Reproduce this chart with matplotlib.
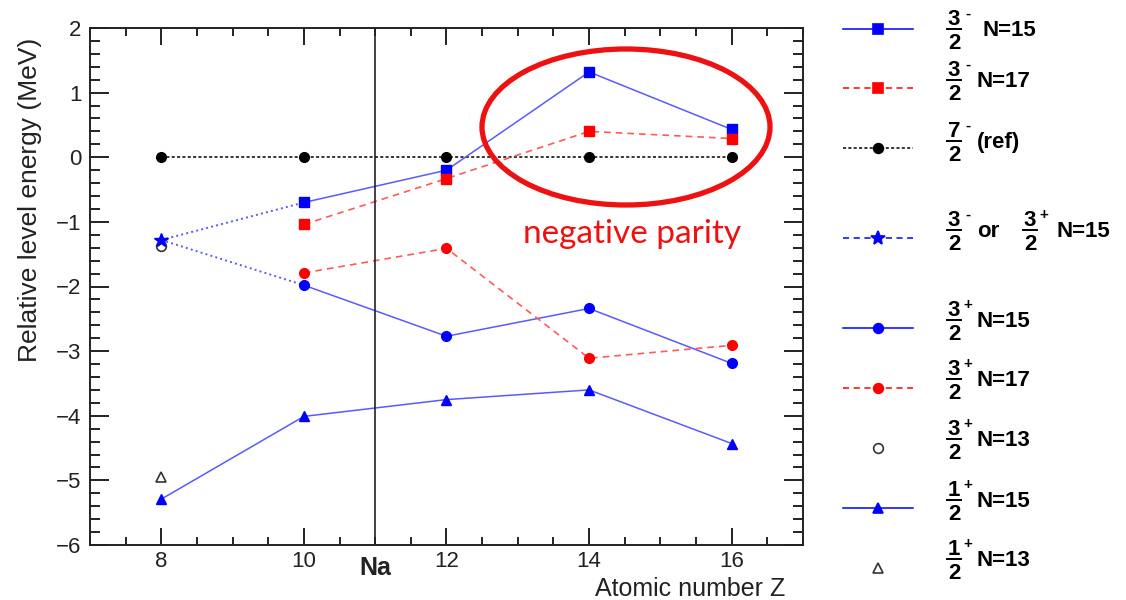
import numpy as np
import matplotlib
matplotlib.use('Agg')
import matplotlib.pyplot as plt
from matplotlib.patches import Ellipse
from matplotlib.ticker import MultipleLocator

plt.rcParams['font.family'] = ['Liberation Sans', 'DejaVu Sans']

# data (MeV, relative to 7/2- level)
Z_all = [8, 10, 12, 14, 16]
Z_hi = [10, 12, 14, 16]
ref_72m = [0, 0, 0, 0, 0]
e32m_N15 = [-0.70, -0.20, 1.32, 0.43]
e32m_N17 = [-1.04, -0.33, 0.40, 0.29]
e32p_N15 = [-1.98, -2.77, -2.34, -3.19]
e32p_N17 = [-1.79, -1.41, -3.11, -2.91]
e12p_N15 = [-5.29, -4.01, -3.75, -3.60, -4.43]
Z_star, e_star = 8, -1.28          # 3/2- or 3/2+ N=15
Z_o13, e32p_N13 = 8, -1.38
Z_t13, e12p_N13 = 8, -4.95

blue_line = '#5a5aff'
red_line = '#ff5a5a'
ink = '#222222'

fig = plt.figure(figsize=(11.26, 6), dpi=100)
ax = fig.add_axes([90/1126, 55/600, 713/1126, 517/600])

# dotted links from the Z=8 star
ax.plot([Z_star, Z_hi[0]], [e_star, e32m_N15[0]], ls=':', color=blue_line, lw=1.4)
ax.plot([Z_star, Z_hi[0]], [e_star, e32p_N15[0]], ls=':', color=blue_line, lw=1.4)

ax.plot(Z_all, ref_72m, ls=(0, (2, 1.5)), color='black', lw=1.1,
        marker='o', ms=7, mfc='black', mec='black')
ax.plot(Z_hi, e32m_N15, ls='-', color=blue_line, lw=1.1)
ax.plot(Z_hi, e32m_N15, ls='none', marker='s', ms=7, color='blue')
ax.plot(Z_hi, e32m_N17, ls=(0, (4, 3)), color=red_line, lw=1.2)
ax.plot(Z_hi, e32m_N17, ls='none', marker='s', ms=7, color='red')
ax.plot(Z_hi, e32p_N15, ls='-', color=blue_line, lw=1.1)
ax.plot(Z_hi, e32p_N15, ls='none', marker='o', ms=7, color='blue')
ax.plot(Z_hi, e32p_N17, ls=(0, (4, 3)), color=red_line, lw=1.2)
ax.plot(Z_hi, e32p_N17, ls='none', marker='o', ms=7, color='red')
ax.plot(Z_all, e12p_N15, ls='-', color=blue_line, lw=1.1)
ax.plot(Z_all, e12p_N15, ls='none', marker='^', ms=7, color='blue')
ax.plot([Z_o13], [e32p_N13], ls='none', marker='o', ms=7, mfc='white', mec='#333333', mew=1.2)
ax.plot([Z_star], [e_star], ls='none', marker='*', ms=10, color='blue')
ax.plot([Z_t13], [e12p_N13], ls='none', marker='^', ms=7, mfc='white', mec='#333333', mew=1.2)

ax.axvline(11, color=ink, lw=1.2)

ax.set_xlim(7, 17)
ax.set_ylim(-6, 2)
ax.xaxis.set_major_locator(MultipleLocator(2))
ax.xaxis.set_minor_locator(MultipleLocator(0.5))
ax.yaxis.set_major_locator(MultipleLocator(1))
ax.yaxis.set_minor_locator(MultipleLocator(0.2))
ax.tick_params(axis='both', which='both', direction='in', top=True, right=True,
               width=1.4, colors=ink, labelsize=16)
ax.tick_params(axis='x', which='major', length=12, pad=4)
ax.tick_params(axis='x', which='minor', length=6)
ax.tick_params(axis='y', which='major', length=14, pad=6)
ax.tick_params(axis='y', which='minor', length=7)
for s in ax.spines.values():
    s.set_linewidth(1.4)
    s.set_color(ink)

ax.set_ylabel('Relative level energy (MeV)', fontsize=19, color=ink)
ax.yaxis.set_label_coords(-48/713, 0.667)
ax.text(11, -6.36, 'Na', ha='center', va='center', fontsize=18, fontweight='bold', color=ink)
ax.text(695/713, -6.79, 'Atomic number Z', transform=ax.get_yaxis_transform(),
        ha='right', va='baseline', fontsize=18, color=ink)

# annotation layer in pixel coordinates
ov = fig.add_axes([0, 0, 1, 1], facecolor='none')
ov.set_xlim(0, 1126)
ov.set_ylim(600, 0)
ov.axis('off')
ov.add_patch(Ellipse((626, 127), 288, 156, fill=False, ec='#ee1111', lw=3.8))
ov.text(632, 234, 'negative parity', color='#ee1111', fontsize=24, family='Lato',
        ha='center', va='center')


def frac(x, y, num, den, sign):
    ov.text(x + 7, y - 4, num, ha='center', va='baseline', fontsize=16, fontweight='bold')
    ov.plot([x, x + 14], [y, y], color='black', lw=1.4)
    ov.text(x + 7, y + 20, den, ha='center', va='baseline', fontsize=16, fontweight='bold')
    ov.text(x + 21, y - 15, sign, ha='center', va='center', fontsize=11, fontweight='bold')


# legend
key_y = [29, 88, 148, 238, 328, 388, 448, 508, 568]
bar_y = [29, 80, 141, 230, 320, 379, 439, 500, 559]
leg_num = ['3', '3', '7', '3', '3', '3', '3', '1', '1']
leg_sign = ['-', '-', '-', '-', '+', '+', '+', '+', '+']
leg_txt = ['N=15', 'N=17', '(ref)', 'or', 'N=15', 'N=17', 'N=13', 'N=15', 'N=13']
leg_sty = [dict(ls='-', color='blue', marker='s', mfc='blue', mec='blue'),
           dict(ls=(0, (4, 3)), color='red', marker='s', mfc='red', mec='red'),
           dict(ls=(0, (2, 1.5)), color='black', marker='o', mfc='black', mec='black'),
           dict(ls=(0, (4, 3)), color='blue', marker='*', mfc='blue', mec='blue'),
           dict(ls='-', color='blue', marker='o', mfc='blue', mec='blue'),
           dict(ls=(0, (4, 3)), color='red', marker='o', mfc='red', mec='red'),
           dict(ls='none', color='#333333', marker='o', mfc='white', mec='#333333'),
           dict(ls='-', color='blue', marker='^', mfc='blue', mec='blue'),
           dict(ls='none', color='#333333', marker='^', mfc='white', mec='#333333')]
for i, st in enumerate(leg_sty):
    ky, by = key_y[i], bar_y[i]
    ms = 10 if st['marker'] == '*' else 7
    ov.plot([843, 913], [ky, ky], lw=1.1, ls=st['ls'], color=st['color'])
    ov.plot([878], [ky], ls='none', marker=st['marker'], ms=ms, mfc=st['mfc'], mec=st['mec'], mew=1.2)
    frac(947, by, leg_num[i], '2', leg_sign[i])
    tx = 983 if i == 0 else 977
    ov.text(tx, by + 7, leg_txt[i], ha='left', va='baseline', fontsize=16, fontweight='bold')
    if leg_txt[i] == 'or':
        frac(1023, by, '3', '2', '+')
        ov.text(1056, by + 7, 'N=15', ha='left', va='baseline', fontsize=16, fontweight='bold')

fig.savefig('out.png', dpi=100)
